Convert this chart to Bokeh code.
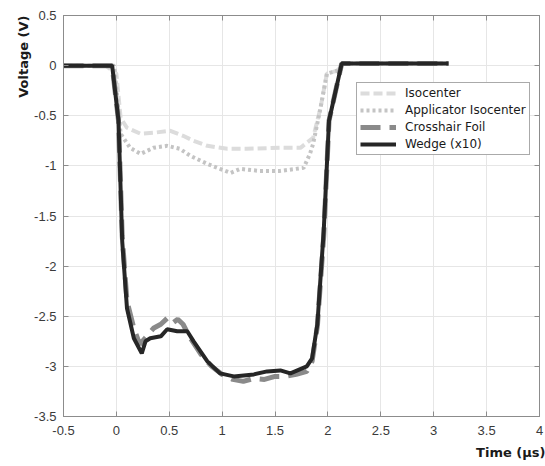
from bokeh.plotting import figure
from bokeh.models import (Range1d, FixedTicker, CustomJSTickFormatter, LinearAxis,
                          Title, Legend, LegendItem)
from bokeh.embed import file_html
from bokeh.resources import INLINE

# ---- data ----
x_ticks = [-0.5, 0, 0.5, 1, 1.5, 2, 2.5, 3, 3.5, 4]
y_ticks = [-3.5, -3, -2.5, -2, -1.5, -1, -0.5, 0, 0.5]

iso_x = [-0.5, -0.3, -0.1, 0.0, 0.04, 0.10, 0.23, 0.35, 0.51, 0.63, 0.73, 0.86,
         1.05, 1.23, 1.55, 1.74, 1.86, 1.93, 1.99, 2.09, 2.15, 2.5, 3.14]
iso_y = [0.0, 0.0, 0.0, -0.08, -0.52, -0.62, -0.68, -0.67, -0.65, -0.70, -0.75, -0.80,
         -0.83, -0.83, -0.82, -0.82, -0.72, -0.42, -0.08, -0.05, 0.02, 0.02, 0.02]

app_x = [-0.5, -0.3, -0.1, -0.02, 0.04, 0.13, 0.23, 0.35, 0.48, 0.60, 0.70, 0.86,
         0.98, 1.08, 1.17, 1.35, 1.55, 1.77, 1.83, 1.86, 1.93, 1.99, 2.09, 2.15, 2.5, 3.14]
app_y = [0.0, 0.0, 0.0, 0.0, -0.68, -0.82, -0.88, -0.82, -0.80, -0.83, -0.90, -0.98,
         -1.03, -1.07, -1.03, -1.05, -1.05, -1.02, -0.88, -0.78, -0.42, -0.08, -0.05, 0.02, 0.02, 0.02]

foil_x = [-0.5, -0.3, -0.1, -0.04, 0.02, 0.055, 0.10, 0.165, 0.22, 0.27, 0.35, 0.42,
          0.48, 0.53, 0.58, 0.63, 0.70, 0.80, 0.90, 1.0, 1.1, 1.2, 1.3, 1.4, 1.5, 1.6,
          1.7, 1.8, 1.85, 1.90, 1.96, 2.01, 2.13, 2.5, 3.14]
foil_y = [0.0, 0.0, 0.0, 0.0, -0.55, -1.70, -2.35, -2.62, -2.78, -2.72, -2.62, -2.58,
          -2.52, -2.57, -2.53, -2.58, -2.72, -2.88, -3.0, -3.08, -3.13, -3.15, -3.12, -3.13,
          -3.10, -3.10, -3.08, -3.05, -2.95, -2.60, -1.70, -0.55, 0.02, 0.02, 0.02]

wedge_x = [-0.5, -0.4, -0.3, -0.2, -0.1, -0.04, 0.02, 0.055, 0.10, 0.165, 0.24, 0.275,
           0.32, 0.42, 0.48, 0.575, 0.67, 0.73, 0.86, 0.98, 1.11, 1.30, 1.425, 1.55,
           1.645, 1.80, 1.85, 1.90, 1.96, 2.01, 2.13, 2.4, 2.7, 3.0, 3.14]
wedge_y = [0.0, 0.0, 0.0, 0.0, 0.0, 0.0, -0.55, -1.75, -2.42, -2.72, -2.87, -2.75,
           -2.72, -2.70, -2.63, -2.65, -2.65, -2.75, -2.95, -3.07, -3.10, -3.08, -3.05, -3.04,
           -3.07, -3.0, -2.92, -2.58, -1.65, -0.55, 0.02, 0.02, 0.02, 0.02, 0.02]

labels = ["Isocenter", "Applicator Isocenter", "Crosshair Foil", "Wedge (x10)"]

# ---- figure ----
p = figure(width=545, height=466, output_backend="svg", toolbar_location=None,
           x_range=Range1d(-0.5, 4), y_range=Range1d(-3.5, 0.5),
           min_border_left=63, min_border_right=6, min_border_top=15, min_border_bottom=50)
p.background_fill_color = "white"
p.border_fill_color = "white"
p.outline_line_color = "#8c8c8c"

tx = FixedTicker(ticks=x_ticks)
ty = FixedTicker(ticks=y_ticks)
fmt = CustomJSTickFormatter(code="return tick.toString();")
blank = CustomJSTickFormatter(code="return '';")

for ax, tk in ((p.xaxis, tx), (p.yaxis, ty)):
    ax.ticker = tk
    ax.formatter = fmt
    ax.major_tick_in = 5
    ax.major_tick_out = 0
    ax.minor_tick_line_color = None
    ax.axis_line_color = "#8c8c8c"
    ax.major_tick_line_color = "#8c8c8c"
    ax.major_label_text_font = "Liberation Sans"
    ax.major_label_text_font_size = "13px"
    ax.major_label_text_color = "#3a3a3a"
p.xaxis.major_label_standoff = 9
p.yaxis.major_label_standoff = 7

for loc, tk in (("right", ty), ("above", tx)):
    a = LinearAxis(ticker=tk, formatter=blank, major_tick_in=5, major_tick_out=0,
                   minor_tick_line_color=None, axis_line_color="#8c8c8c",
                   major_tick_line_color="#8c8c8c", major_label_standoff=0)
    p.add_layout(a, loc)

p.xgrid.ticker = tx
p.ygrid.ticker = ty
p.xgrid.grid_line_color = "#e6e6e6"
p.ygrid.grid_line_color = "#e6e6e6"

r1 = p.line(iso_x, iso_y, line_color="#dcdcdc", line_width=4, line_dash="9 4")
r2 = p.line(app_x, app_y, line_color="#c4c4c4", line_width=4, line_dash="3 3")
r3 = p.line(foil_x, foil_y, line_color="#8a8a8a", line_width=5, line_dash="20 9")
r4 = p.line(wedge_x, wedge_y, line_color="#262626", line_width=4)

legend = Legend(items=[LegendItem(label=labels[0], renderers=[r1]),
                       LegendItem(label=labels[1], renderers=[r2]),
                       LegendItem(label=labels[2], renderers=[r3]),
                       LegendItem(label=labels[3], renderers=[r4])],
                location=(293, 261), glyph_width=36, glyph_height=14, label_height=14,
                spacing=3, padding=3, margin=0, label_standoff=9,
                label_text_font="DejaVu Sans", label_text_font_size="12px",
                label_text_color="#1a1a1a", border_line_color="#555555",
                border_line_width=1, background_fill_alpha=1.0)
p.add_layout(legend, "center")

xt = Title(text="Time (µs)", align="right", text_font="DejaVu Sans",
           text_font_size="13px", text_font_style="bold", text_color="#1a1a1a",
           standoff=10, offset=-6, vertical_align="bottom")
p.add_layout(xt, "below")
yt = Title(text="Voltage (V)", align="right", text_font="DejaVu Sans",
           text_font_size="13px", text_font_style="bold", text_color="#1a1a1a",
           standoff=2)
p.add_layout(yt, "left")

open("out.html", "w").write(file_html(p, INLINE))
